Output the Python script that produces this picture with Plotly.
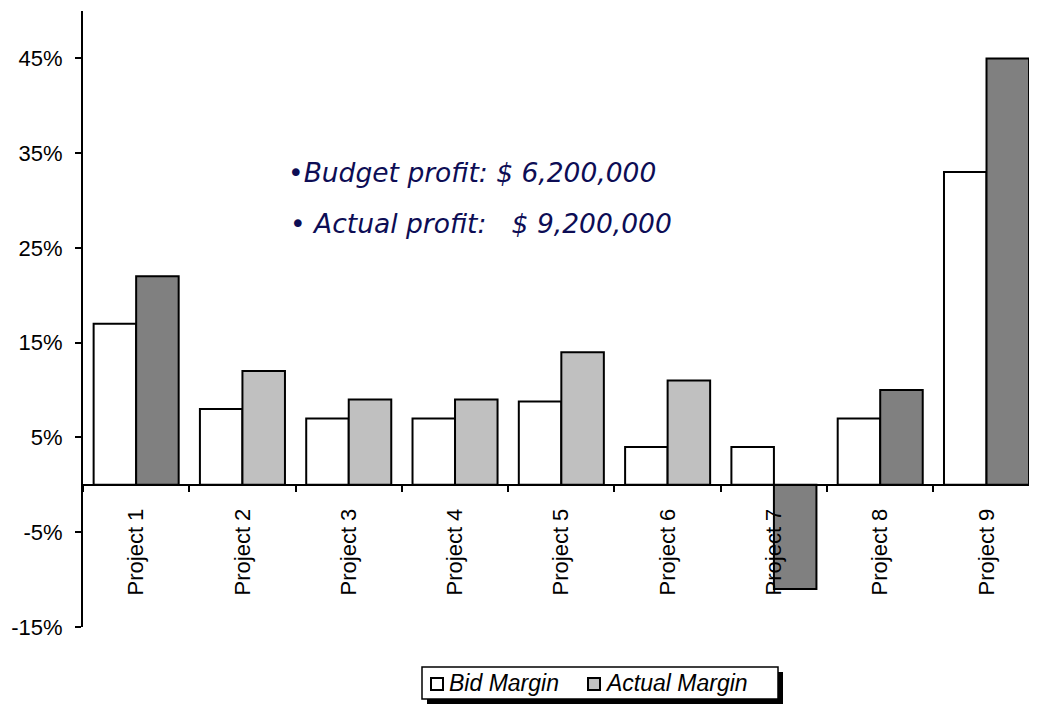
import plotly.graph_objects as go

projects = ["Project 1", "Project 2", "Project 3", "Project 4", "Project 5",
            "Project 6", "Project 7", "Project 8", "Project 9"]
bid_margin = [17, 8, 7, 7, 8.8, 4, 4, 7, 33]
actual_margin = [22, 12, 9, 9, 14, 11, -11, 10, 45]
actual_colors = ["#808080", "#c0c0c0", "#c0c0c0", "#c0c0c0", "#c0c0c0",
                 "#c0c0c0", "#808080", "#808080", "#808080"]
y_ticks = [-15, -5, 5, 15, 25, 35, 45]
y_tick_text = [f"{v}%" for v in y_ticks]
series_names = ["Bid Margin", "Actual Margin"]
legend_colors = ["white", "#c0c0c0"]
notes = ["\u2022<i>Budget profit: $ 6,200,000</i>",
         "\u2022 <i>Actual profit:   $ 9,200,000</i>"]

# page body has an 8px margin; plot area in screen px: x 83..1037, y 11..627
OFF = 8
PX0, PY0, PW, PH = 83, 627, 954, 616


def px(x):
    return (x - PX0) / PW


def py(y):
    return (PY0 - y) / PH


fig = go.Figure()
fig.add_trace(go.Bar(
    x=projects, y=bid_margin, name=series_names[0],
    marker=dict(color="white", line=dict(color="black", width=2)),
))
fig.add_trace(go.Bar(
    x=projects, y=actual_margin, name=series_names[1],
    marker=dict(color=actual_colors, line=dict(color="black", width=2)),
))

fig.update_layout(
    width=1037 - OFF, height=708 - OFF,
    margin=dict(l=83 - OFF, r=0, t=11 - OFF, b=81, pad=0),
    paper_bgcolor="white", plot_bgcolor="white",
    barmode="group", bargap=0.2, bargroupgap=0,
    font=dict(family="Liberation Sans, Arial", size=22, color="black"),
    showlegend=False,
    xaxis=dict(
        range=[-0.5, 8.475], anchor="free", position=15 / 65,
        showline=True, linecolor="black", linewidth=2,
        ticks="outside", tickson="boundaries", ticklen=6, tickwidth=2, tickcolor="black",
        tickangle=-90, ticklabelstandoff=14, showgrid=False, zeroline=False,
    ),
    yaxis=dict(
        range=[-15, 50], tickmode="array", tickvals=y_ticks, ticktext=y_tick_text,
        showline=True, linecolor="black", linewidth=2,
        ticks="outside", ticklen=6, tickwidth=2, tickcolor="black",
        ticklabelstandoff=8, showgrid=False, zeroline=False,
    ),
)

# text notes
fig.add_annotation(x=px(286), y=py(172), xref="paper", yref="paper", text=notes[0],
                   showarrow=False, xanchor="left", yanchor="middle",
                   font=dict(family="DejaVu Sans", size=26.5, color="#0d0d55"))
fig.add_annotation(x=px(288), y=py(224), xref="paper", yref="paper", text=notes[1],
                   showarrow=False, xanchor="left", yanchor="middle",
                   font=dict(family="DejaVu Sans", size=26.5, color="#0d0d55"))

# legend box with drop shadow
fig.add_shape(type="rect", xref="paper", yref="paper",
              x0=px(427), x1=px(783), y0=py(704), y1=py(672),
              fillcolor="black", line=dict(width=0), layer="above")
fig.add_shape(type="rect", xref="paper", yref="paper",
              x0=px(422), x1=px(778), y0=py(699), y1=py(667),
              fillcolor="white", line=dict(color="black", width=1.5), layer="above")
sq_x = [431, 588]
txt_x = [447, 603]
for i in range(2):
    fig.add_shape(type="rect", xref="paper", yref="paper",
                  x0=px(sq_x[i]), x1=px(sq_x[i] + 12), y0=py(690), y1=py(678),
                  fillcolor=legend_colors[i], line=dict(color="black", width=2),
                  layer="above")
    fig.add_annotation(x=px(txt_x[i]), y=py(683), xref="paper", yref="paper",
                       text=series_names[i], showarrow=False,
                       xanchor="left", yanchor="middle",
                       font=dict(family="Liberation Sans, Arial", size=23,
                                 style="italic", color="black"))

fig.write_html("out.html")
